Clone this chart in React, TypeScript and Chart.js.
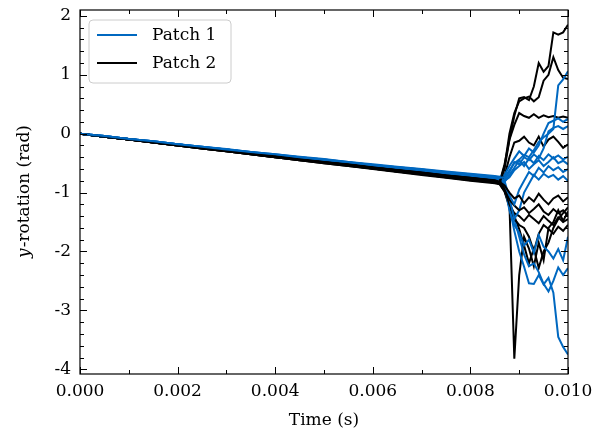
import React, { useEffect, useRef } from 'react';
import { Chart, registerables } from 'chart.js';

Chart.register(...registerables);

// Time samples (s)
const TIME = [
  0, 0.0005, 0.001, 0.0015, 0.002, 0.0025, 0.003, 0.0035, 0.004, 0.0045,
  0.005, 0.0055, 0.006, 0.0065, 0.007, 0.0075, 0.008, 0.0085,
  0.0086, 0.0087, 0.0088, 0.0089, 0.009, 0.0091, 0.0092, 0.0093, 0.0094,
  0.0095, 0.0096, 0.0097, 0.0098, 0.0099, 0.01,
];

// Patch 1 (blue) y-rotation series
const PATCH1 = [
  [0, -0.04, -0.09, -0.13, -0.18, -0.22, -0.27, -0.31, -0.35, -0.40, -0.44, -0.48, -0.53, -0.57, -0.61, -0.66, -0.70, -0.74,
    -0.75, -0.74, -0.62, -0.50, -0.44, -0.36, -0.40, -0.28, -0.14, -0.06, 0.00, 0.08, 0.82, 0.92, 1.06],
  [0, -0.05, -0.09, -0.13, -0.18, -0.22, -0.26, -0.31, -0.35, -0.39, -0.43, -0.48, -0.52, -0.56, -0.60, -0.64, -0.68, -0.72,
    -0.73, -0.70, -0.55, -0.42, -0.30, -0.38, -0.25, -0.32, -0.20, 0.00, 0.18, 0.22, 0.26, 0.20, 0.25],
  [0, -0.04, -0.09, -0.14, -0.18, -0.23, -0.27, -0.32, -0.36, -0.41, -0.45, -0.49, -0.54, -0.58, -0.62, -0.67, -0.71, -0.75,
    -0.76, -0.78, -0.65, -0.48, -0.52, -0.40, -0.45, -0.35, -0.42, -0.25, 0.04, 0.10, 0.13, 0.08, 0.13],
  [0, -0.05, -0.09, -0.14, -0.19, -0.23, -0.28, -0.32, -0.37, -0.41, -0.46, -0.50, -0.54, -0.59, -0.63, -0.67, -0.72, -0.76,
    -0.77, -0.82, -0.70, -0.58, -0.45, -0.55, -0.42, -0.50, -0.38, -0.45, -0.35, -0.42, -0.37, -0.44, -0.39],
  [0, -0.04, -0.09, -0.13, -0.18, -0.23, -0.27, -0.32, -0.36, -0.40, -0.45, -0.49, -0.53, -0.58, -0.62, -0.66, -0.70, -0.74,
    -0.75, -0.80, -0.74, -0.62, -0.55, -0.48, -0.60, -0.52, -0.45, -0.55, -0.48, -0.40, -0.50, -0.46, -0.52],
  [0, -0.05, -0.09, -0.14, -0.19, -0.24, -0.28, -0.33, -0.37, -0.42, -0.46, -0.51, -0.55, -0.59, -0.64, -0.68, -0.72, -0.77,
    -0.78, -0.86, -1.05, -1.20, -0.95, -0.80, -0.65, -0.72, -0.58, -0.66, -0.55, -0.62, -0.57, -0.65, -0.60],
  [0, -0.04, -0.09, -0.13, -0.18, -0.22, -0.27, -0.31, -0.36, -0.40, -0.44, -0.49, -0.53, -0.57, -0.61, -0.65, -0.69, -0.73,
    -0.74, -0.80, -1.10, -1.45, -1.30, -1.00, -0.85, -0.70, -0.78, -0.68, -0.74, -0.70, -0.78, -0.72, -0.80],
  [0, -0.05, -0.09, -0.14, -0.19, -0.23, -0.28, -0.33, -0.37, -0.42, -0.46, -0.50, -0.55, -0.59, -0.63, -0.68, -0.72, -0.76,
    -0.77, -0.88, -1.30, -1.55, -1.68, -1.90, -1.80, -2.02, -1.72, -1.92, -2.00, -2.12, -1.96, -2.15, -1.75],
  [0, -0.04, -0.09, -0.14, -0.18, -0.23, -0.27, -0.32, -0.36, -0.41, -0.45, -0.50, -0.54, -0.58, -0.63, -0.67, -0.71, -0.75,
    -0.75, -0.85, -1.15, -1.45, -1.75, -2.05, -2.25, -2.20, -2.35, -2.55, -2.68, -2.50, -2.27, -2.40, -2.28],
  [0, -0.05, -0.09, -0.14, -0.19, -0.24, -0.28, -0.33, -0.38, -0.42, -0.47, -0.51, -0.56, -0.60, -0.64, -0.69, -0.73, -0.77,
    -0.78, -0.90, -1.25, -1.65, -2.00, -2.26, -2.54, -2.55, -2.40, -2.56, -2.45, -2.70, -3.45, -3.62, -3.75],
];

// Patch 2 (black) y-rotation series
const PATCH2 = [
  [0, -0.05, -0.10, -0.14, -0.19, -0.24, -0.29, -0.34, -0.38, -0.43, -0.48, -0.52, -0.57, -0.62, -0.66, -0.71, -0.75, -0.80,
    -0.82, -0.60, -0.10, 0.30, 0.60, 0.62, 0.57, 0.80, 1.20, 1.05, 1.15, 1.72, 1.68, 1.72, 1.85],
  [0, -0.05, -0.10, -0.15, -0.20, -0.24, -0.29, -0.34, -0.39, -0.44, -0.48, -0.53, -0.58, -0.62, -0.67, -0.72, -0.76, -0.81,
    -0.83, -0.55, 0.00, 0.35, 0.55, 0.60, 0.63, 0.55, 0.62, 0.90, 1.00, 1.30, 1.08, 0.95, 0.93],
  [0, -0.05, -0.09, -0.14, -0.19, -0.24, -0.28, -0.33, -0.38, -0.43, -0.47, -0.52, -0.56, -0.61, -0.66, -0.70, -0.75, -0.79,
    -0.82, -0.52, -0.10, 0.15, 0.35, 0.30, 0.27, 0.33, 0.27, 0.31, 0.28, 0.30, 0.27, 0.29, 0.27],
  [0, -0.05, -0.10, -0.15, -0.20, -0.25, -0.30, -0.35, -0.40, -0.45, -0.49, -0.54, -0.59, -0.64, -0.68, -0.73, -0.78, -0.82,
    -0.84, -0.72, -0.40, -0.15, -0.12, -0.05, -0.15, -0.20, -0.05, -0.22, -0.10, -0.05, -0.14, -0.24, -0.18],
  [0, -0.05, -0.10, -0.14, -0.19, -0.24, -0.29, -0.33, -0.38, -0.43, -0.48, -0.52, -0.57, -0.61, -0.66, -0.71, -0.75, -0.80,
    -0.82, -0.88, -1.00, -1.10, -1.05, -1.18, -1.08, -1.15, -1.02, -1.12, -1.20, -1.10, -1.05, -1.15, -1.08],
  [0, -0.05, -0.10, -0.15, -0.20, -0.25, -0.30, -0.35, -0.40, -0.45, -0.50, -0.55, -0.59, -0.64, -0.69, -0.74, -0.79, -0.83,
    -0.85, -0.92, -1.12, -1.22, -1.30, -1.25, -1.35, -1.28, -1.20, -1.32, -1.38, -1.28, -1.35, -1.30, -1.40],
  [0, -0.05, -0.10, -0.15, -0.19, -0.24, -0.29, -0.34, -0.39, -0.44, -0.49, -0.53, -0.58, -0.63, -0.68, -0.72, -0.77, -0.82,
    -0.84, -0.95, -1.20, -1.35, -1.40, -1.48, -1.38, -1.45, -1.52, -1.40, -1.48, -1.55, -1.42, -1.50, -1.45],
  [0, -0.05, -0.10, -0.15, -0.20, -0.25, -0.30, -0.35, -0.40, -0.45, -0.50, -0.55, -0.60, -0.65, -0.70, -0.75, -0.80, -0.84,
    -0.86, -0.98, -1.25, -1.45, -1.55, -1.60, -1.75, -2.00, -1.70, -1.55, -1.62, -1.70, -1.58, -1.65, -1.55],
  [0, -0.05, -0.10, -0.14, -0.19, -0.24, -0.29, -0.34, -0.39, -0.43, -0.48, -0.53, -0.58, -0.62, -0.67, -0.72, -0.76, -0.81,
    -0.83, -0.90, -1.18, -1.40, -1.62, -1.90, -2.20, -1.95, -2.28, -2.00, -1.85, -1.60, -1.45, -1.35, -1.25],
  [0, -0.05, -0.10, -0.15, -0.20, -0.25, -0.30, -0.35, -0.40, -0.44, -0.49, -0.54, -0.59, -0.64, -0.69, -0.74, -0.78, -0.83,
    -0.85, -0.98, -1.20, -3.82, -2.40, -1.75, -1.95, -2.25, -1.85, -2.15, -1.60, -1.50, -1.30, -1.48, -1.32],
];

const X_TICKS = [0, 0.002, 0.004, 0.006, 0.008, 0.01];
const Y_TICKS = [-4, -3, -2, -1, 0, 1, 2];
const LEGEND_LABELS = ['Patch 1', 'Patch 2'];
const X_TITLE = 'Time (s)';
const Y_TITLE_ITALIC = 'y';
const Y_TITLE_REST = '-rotation (rad)';

const BLUE = '#0068C0';
const BLACK = '#000000';
const FONT = "'DejaVu Serif', serif";
const FS = 17;

const decorPlugin = {
  id: 'decor',
  afterDraw(chart: any) {
    const { ctx, chartArea } = chart;
    const { left, right, top, bottom } = chartArea;
    const xs = chart.scales.x;
    const ys = chart.scales.y;
    ctx.save();
    ctx.strokeStyle = '#000';
    ctx.lineWidth = 1;
    const drawX = (v: number, len: number) => {
      const p = Math.round(xs.getPixelForValue(v)) + 0.5;
      ctx.beginPath();
      ctx.moveTo(p, bottom); ctx.lineTo(p, bottom - len);
      ctx.moveTo(p, top); ctx.lineTo(p, top + len);
      ctx.stroke();
    };
    const drawY = (v: number, len: number) => {
      const p = Math.round(ys.getPixelForValue(v)) + 0.5;
      ctx.beginPath();
      ctx.moveTo(left, p); ctx.lineTo(left + len, p);
      ctx.moveTo(right, p); ctx.lineTo(right - len, p);
      ctx.stroke();
    };
    for (let i = 0; i <= 10; i++) drawX(i * 0.001, i % 2 === 0 ? 7 : 4);
    for (let i = -20; i <= 10; i++) {
      const v = i * 0.2;
      if (v < ys.min || v > ys.max) continue;
      drawY(v, i % 5 === 0 ? 7 : 4);
    }
    ctx.lineWidth = 1.2;
    ctx.strokeRect(left, top, right - left, bottom - top);

    // legend
    const bx = 89, by = 20, bw = 142, bh = 63, r = 4;
    ctx.beginPath();
    ctx.moveTo(bx + r, by);
    ctx.lineTo(bx + bw - r, by);
    ctx.quadraticCurveTo(bx + bw, by, bx + bw, by + r);
    ctx.lineTo(bx + bw, by + bh - r);
    ctx.quadraticCurveTo(bx + bw, by + bh, bx + bw - r, by + bh);
    ctx.lineTo(bx + r, by + bh);
    ctx.quadraticCurveTo(bx, by + bh, bx, by + bh - r);
    ctx.lineTo(bx, by + r);
    ctx.quadraticCurveTo(bx, by, bx + r, by);
    ctx.closePath();
    ctx.fillStyle = 'rgba(255,255,255,0.85)';
    ctx.fill();
    ctx.strokeStyle = '#cccccc';
    ctx.lineWidth = 1;
    ctx.stroke();
    const cols = [BLUE, BLACK];
    const rows = [35, 63];
    ctx.font = `${FS}px ${FONT}`;
    ctx.textBaseline = 'middle';
    ctx.textAlign = 'left';
    LEGEND_LABELS.forEach((lab, i) => {
      ctx.strokeStyle = cols[i];
      ctx.lineWidth = 2;
      ctx.beginPath();
      ctx.moveTo(97, rows[i]);
      ctx.lineTo(137, rows[i]);
      ctx.stroke();
      ctx.fillStyle = '#000';
      ctx.fillText(lab, 152, rows[i] + 1);
    });

    // y title with italic y
    const cy = (top + bottom) / 2;
    ctx.translate(25, cy);
    ctx.rotate(-Math.PI / 2);
    ctx.font = `italic ${FS}px ${FONT}`;
    const w1 = ctx.measureText(Y_TITLE_ITALIC).width;
    ctx.font = `${FS}px ${FONT}`;
    const w2 = ctx.measureText(Y_TITLE_REST).width;
    const start = -(w1 + w2) / 2;
    ctx.fillStyle = '#000';
    ctx.textAlign = 'left';
    ctx.textBaseline = 'middle';
    ctx.font = `italic ${FS}px ${FONT}`;
    ctx.fillText(Y_TITLE_ITALIC, start, 0);
    ctx.font = `${FS}px ${FONT}`;
    ctx.fillText(Y_TITLE_REST, start + w1 + 1, 0);
    ctx.restore();
  },
};

export default function App() {
  const ref = useRef<HTMLCanvasElement>(null);
  useEffect(() => {
    if (!ref.current) return;
    const datasets: any[] = [];
    for (let i = 0; i < Math.max(PATCH1.length, PATCH2.length); i++) {
      if (PATCH1[i]) datasets.push({
        label: 'Patch 1',
        data: TIME.map((t, j) => ({ x: t, y: PATCH1[i][j] })),
        borderColor: BLUE,
        borderWidth: 2,
        pointRadius: 0,
        tension: 0,
        fill: false,
      });
      if (PATCH2[i]) datasets.push({
        label: 'Patch 2',
        data: TIME.map((t, j) => ({ x: t, y: PATCH2[i][j] })),
        borderColor: BLACK,
        borderWidth: 2,
        pointRadius: 0,
        tension: 0,
        fill: false,
      });
    }
    const chart = new Chart(ref.current, {
      type: 'line',
      data: { datasets },
      options: {
        animation: false,
        responsive: false,
        devicePixelRatio: 1,
        layout: { padding: { top: 10, right: 24, left: 0, bottom: 0 } },
        plugins: { legend: { display: false }, tooltip: { enabled: false } },
        scales: {
          x: {
            type: 'linear',
            min: 0,
            max: 0.01,
            grid: { display: false, drawTicks: false },
            border: { display: false },
            afterBuildTicks: (s: any) => { s.ticks = X_TICKS.map((v) => ({ value: v })); },
            afterFit: (s: any) => { s.height = 58; s.paddingLeft = 0; s.paddingRight = 0; },
            ticks: {
              color: '#000',
              font: { family: FONT, size: FS },
              padding: 7,
              maxRotation: 0,
              autoSkip: false,
              callback: (v: any) => Number(v).toFixed(3),
            },
            title: {
              display: true,
              text: X_TITLE,
              color: '#000',
              font: { family: FONT, size: FS },
              padding: { top: 0, bottom: 1 },
            },
          },
          y: {
            type: 'linear',
            min: -4.08,
            max: 2.1,
            grid: { display: false, drawTicks: false },
            border: { display: false },
            afterBuildTicks: (s: any) => { s.ticks = Y_TICKS.map((v) => ({ value: v })); },
            afterFit: (s: any) => { s.width = 80; s.paddingTop = 0; s.paddingBottom = 0; },
            ticks: {
              color: '#000',
              font: { family: FONT, size: FS },
              padding: 9,
              autoSkip: false,
              callback: (v: any) => String(v),
            },
          },
        },
      },
      plugins: [decorPlugin],
    });
    return () => chart.destroy();
  }, []);
  return (
    <div style={{ position: 'fixed', left: 0, top: 0, width: 592, height: 432, background: '#fff' }}>
      <canvas ref={ref} width={592} height={432} style={{ width: 592, height: 432, display: 'block' }} />
    </div>
  );
}
